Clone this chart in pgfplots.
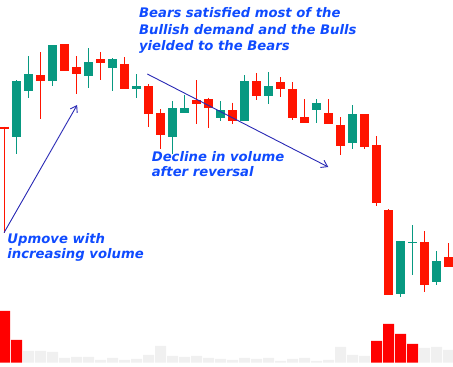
\documentclass[border=0pt]{standalone}
\usepackage{pgfplots}
\pgfplotsset{compat=1.18}
\usepackage{pgfplotstable}
\usepackage{fontspec}
\setmainfont{DejaVu Sans}
\usetikzlibrary{arrows.meta}
\definecolor{cgreen}{RGB}{8,153,129}
\definecolor{cred}{RGB}{255,20,0}
\definecolor{vred}{RGB}{255,0,0}
\definecolor{vgray}{RGB}{240,240,240}
\definecolor{tblue}{RGB}{15,75,255}
\definecolor{ablue}{RGB}{40,40,180}
% x = candle index; bt/bb = body top/bottom, wt/wb = wick top/bottom (chart units, downward)
\pgfplotstableread{
x bt bb wt wb
1 81 136.7 80 154
2 74 90.7 56 97.7
4 45 80.7 45 85.7
7 62 75.7 48 87.7
9 59 67.7 58 90.7
11 86 88.7 74 97.5
14 108.3 136.7 101 154.3
15 108.3 112.7 95 113.3
18 110 117.7 101.3 121
20 81 120.7 75 120.7
22 86 95.7 72 103.7
26 103 109.7 99 122.7
29 114 142.7 105 148.7
33 241 293.7 241 296.7
34 242 243.3 225 274.7
36 261 281.7 251 284.7
}\greentab
\pgfplotstableread{
x bt bb wt wb
0 126.7 128.7 126.7 232.7
3 75 80.7 52 119
5 44 70.7 44 70.7
6 67 73.7 56 94.3
8 59 62.7 52 79.7
10 64 88.7 57 88.7
12 86 113.5 84 126.7
13 113 134.7 109 149
16 100.3 103.7 80 124.3
17 99 107.7 97.7 127.7
19 110 120.7 102.7 124.3
21 81 95.7 73 99.7
23 82 88.7 77 96.5
24 89 117.7 82 120
25 117 122.7 99 122.7
27 113 123.7 99 124.3
28 125 145.7 117 154.7
30 114 146.7 114 148.7
31 145 202.7 136 205.7
32 210 294.7 209 294.7
35 242 284.7 231 291.7
37 257 266.7 243 266.7
}\redtab
\begin{document}
\begin{tikzpicture}
\useasboundingbox (0,0) rectangle (453pt,367pt);
% volume
\begin{axis}[at={(0,0)}, anchor=south west, scale only axis, width=453pt, height=367pt,
  xmin=-0.375, xmax=37.375, ymin=-4.3, ymax=362.7, hide axis]
\addplot[ybar, bar width=11pt, bar shift=0pt, fill=vred, draw=none] coordinates {
(0,51.7) (1,22.7) (31,21.7) (32,38.7) (33,28.7) (34,18.7)};
\addplot[ybar, bar width=11pt, bar shift=0pt, fill=vgray, draw=none] coordinates {
(2,11.7) (3,11.7) (4,10.7) (5,4.7) (6,5.7) (7,5.7) (8,2.7) (9,4.7) (10,2.7)
(11,3.7) (12,7.7) (13,16.7) (14,6.7) (15,5.7) (16,6.7) (17,4.7) (18,3.7) (19,2.7)
(20,4.7) (21,3.7) (22,4.7) (23,1.7) (24,3.7) (25,4.7) (26,1.7) (27,2.7) (28,15.7)
(29,7.7) (30,6.7) (35,14.7) (36,15.7) (37,12.7)};
\end{axis}
% candles
\begin{axis}[at={(0,0)}, anchor=south west, scale only axis, width=453pt, height=367pt,
  xmin=-0.375, xmax=37.375, ymin=0, ymax=367, y dir=reverse, hide axis]
\addplot[draw=none, no marks, error bars/.cd, y dir=plus, y explicit, error mark=none,
  error bar style={draw=cgreen, line width=1.2pt}]
  table[x=x, y=wt, y error plus expr=\thisrow{wb}-\thisrow{wt}] {\greentab};
\addplot[draw=none, no marks, error bars/.cd, y dir=plus, y explicit, error mark=none,
  error bar style={draw=cgreen, line width=8.7pt}]
  table[x=x, y=bt, y error plus expr=\thisrow{bb}-\thisrow{bt}] {\greentab};
\addplot[draw=none, no marks, error bars/.cd, y dir=plus, y explicit, error mark=none,
  error bar style={draw=cred, line width=1.2pt}]
  table[x=x, y=wt, y error plus expr=\thisrow{wb}-\thisrow{wt}] {\redtab};
\addplot[draw=none, no marks, error bars/.cd, y dir=plus, y explicit, error mark=none,
  error bar style={draw=cred, line width=8.7pt}]
  table[x=x, y=bt, y error plus expr=\thisrow{bb}-\thisrow{bt}] {\redtab};
% arrows
\draw[ablue, line width=0.9pt, -{Straight Barb[length=6pt,width=8pt]}]
  (axis cs:-0.04,232.7) -- (axis cs:6.05,105);
\draw[ablue, line width=0.9pt, -{Straight Barb[length=6pt,width=8pt]}]
  (axis cs:11.9,74) -- (axis cs:26.98,167);
% texts
\node[anchor=north west, inner sep=0pt, align=left, text=tblue,
  font=\fontsize{13.2}{16.3}\selectfont\bfseries\itshape] at (axis cs:11.2,7.5)
  {Bears satisfied most of the\\Bullish demand and the Bulls\\yielded to the Bears};
\node[anchor=north west, inner sep=0pt, align=left, text=tblue,
  font=\fontsize{13.2}{15}\selectfont\bfseries\itshape] at (axis cs:12.26,151.5)
  {Decline in volume\\after reversal};
\node[anchor=north west, inner sep=0pt, align=left, text=tblue,
  font=\fontsize{13.2}{15}\selectfont\bfseries\itshape] at (axis cs:0.23,233.2)
  {Upmove with\\increasing volume};
\end{axis}
\end{tikzpicture}
\end{document}
